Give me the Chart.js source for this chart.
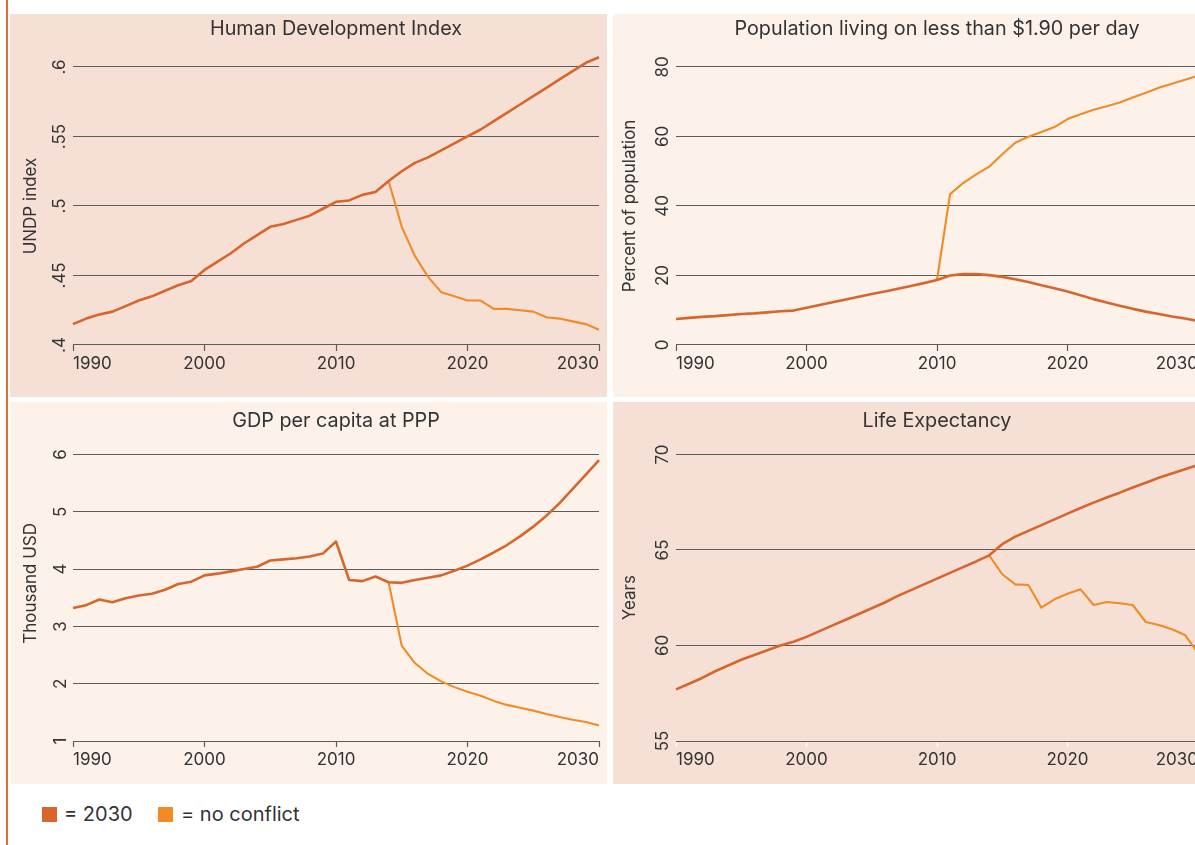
<!DOCTYPE html>
<html><head><meta charset="utf-8">
<script src="https://cdn.jsdelivr.net/npm/chart.js@4.4.1/dist/chart.umd.min.js"></script>
<style>
html,body{margin:0;padding:0;}
body{width:1195px;height:845px;overflow:hidden;position:relative;background:#fff;font-family:'Inter',sans-serif;}
.panel{position:absolute;overflow:visible;}
.panel canvas{position:absolute;left:0;top:0;}
#vline{position:absolute;left:6px;top:0;width:1.5px;height:845px;background:#e06e32;}
.sq{position:absolute;width:15px;height:15px;top:807px;}
.lt{position:absolute;top:801px;font-size:20px;line-height:26px;color:#333;white-space:nowrap;}
</style></head>
<body>
<div id="vline"></div>
<div class="panel" style="left:10px;top:14px;width:597px;height:383px;background:#f6e0d5;"><canvas id="c1" width="597" height="383"></canvas></div>
<div class="panel" style="left:613px;top:14px;width:582px;height:383px;background:#fdf2e9;"><canvas id="c2" width="593" height="383"></canvas></div>
<div class="panel" style="left:10px;top:402px;width:597px;height:382px;background:#fdf2e9;"><canvas id="c3" width="597" height="382"></canvas></div>
<div class="panel" style="left:613px;top:402px;width:582px;height:382px;background:#f6e0d5;"><canvas id="c4" width="593" height="382"></canvas></div>
<div class="sq" style="left:42px;background:#d8652c;"></div>
<div class="lt" style="left:64px;">= 2030</div>
<div class="sq" style="left:158px;background:#f28a26;"></div>
<div class="lt" style="left:181px;">= no conflict</div>
<script>
const years = [1990,1991,1992,1993,1994,1995,1996,1997,1998,1999,2000,2001,2002,2003,2004,2005,2006,2007,2008,2009,2010,2011,2012,2013,2014,2015,2016,2017,2018,2019,2020,2021,2022,2023,2024,2025,2026,2027,2028,2029,2030];
const xTicks = [1990,2000,2010,2020,2030];
const seriesNames = ['2030','no conflict'];

// Human Development Index (UNDP index)
const hdi2030 = [0.415,0.419,0.422,0.424,0.428,0.432,0.435,0.439,0.443,0.446,0.454,0.460,0.466,0.473,0.479,0.485,0.487,0.490,0.493,0.498,0.503,0.504,0.508,0.510,0.518,0.525,0.531,0.535,0.540,0.545,0.550,0.555,0.561,0.567,0.573,0.579,0.585,0.591,0.597,0.603,0.607];
const hdiNoConflict = [null,null,null,null,null,null,null,null,null,null,null,null,null,null,null,null,null,null,null,null,null,null,null,null,0.518,0.485,0.464,0.449,0.438,0.435,0.432,0.432,0.426,0.426,0.425,0.424,0.420,0.419,0.417,0.415,0.411];
const hdiTicks = [0.4,0.45,0.5,0.55,0.6];

// Population living on less than $1.90 per day (percent)
const pov2030 = [7.5,7.8,8.1,8.3,8.6,8.9,9.1,9.4,9.7,9.9,10.7,11.5,12.3,13.1,13.9,14.7,15.4,16.2,17.0,17.8,18.7,20.0,20.4,20.4,20.1,19.6,18.9,18.1,17.2,16.3,15.4,14.3,13.2,12.2,11.3,10.4,9.6,8.9,8.2,7.6,6.9];
const povNoConflict = [null,null,null,null,null,null,null,null,null,null,null,null,null,null,null,null,null,null,null,null,18.7,43.4,46.6,49.1,51.3,54.9,58.2,59.9,61.3,62.7,65.0,66.4,67.7,68.7,69.8,71.2,72.6,74.0,75.2,76.3,77.5];
const povTicks = [0,20,40,60,80];

// GDP per capita at PPP (thousand USD)
const gdp2030 = [3.32,3.37,3.47,3.42,3.49,3.54,3.57,3.64,3.74,3.78,3.89,3.92,3.96,4.00,4.04,4.15,4.17,4.19,4.22,4.27,4.48,3.81,3.79,3.87,3.77,3.76,3.81,3.85,3.89,3.97,4.06,4.17,4.29,4.42,4.57,4.74,4.93,5.15,5.40,5.65,5.90];
const gdpNoConflict = [null,null,null,null,null,null,null,null,null,null,null,null,null,null,null,null,null,null,null,null,null,null,null,null,3.77,2.66,2.36,2.17,2.04,1.94,1.86,1.79,1.70,1.63,1.58,1.53,1.47,1.42,1.37,1.33,1.27];
const gdpTicks = [1,2,3,4,5,6];

// Life Expectancy (years)
const life2030 = [57.7,58.0,58.3,58.65,58.95,59.25,59.5,59.75,60.0,60.2,60.45,60.75,61.05,61.35,61.65,61.95,62.25,62.6,62.9,63.2,63.5,63.8,64.1,64.4,64.72,65.3,65.7,66.0,66.3,66.6,66.9,67.2,67.48,67.75,68.0,68.27,68.52,68.78,69.0,69.23,69.45];
const lifeNoConflict = [null,null,null,null,null,null,null,null,null,null,null,null,null,null,null,null,null,null,null,null,null,null,null,null,64.72,63.73,63.2,63.17,61.98,62.42,62.71,62.94,62.12,62.28,62.21,62.12,61.23,61.07,60.85,60.55,59.6];
const lifeTicks = [55,60,65,70];

const DARK = '#d8652c', LIGHT = '#f28a26', TXT = '#333333', GRID = '#5c5c5c';
const FONT = 'Inter';

function makeChart(id, cfg) {
  new Chart(document.getElementById(id), {
    type: 'line',
    data: {
      labels: years,
      datasets: [
        { label: seriesNames[0], data: cfg.a, borderColor: DARK, borderWidth: 2.6, pointRadius: 0, tension: 0, clip: false, borderJoinStyle: 'round' },
        { label: seriesNames[1], data: cfg.b, borderColor: LIGHT, borderWidth: 2.1, pointRadius: 0, tension: 0, clip: false, borderJoinStyle: 'round' }
      ]
    },
    options: {
      responsive: false,
      animation: false,
      events: [],
      layout: { padding: { left: 0, right: 8, top: 0, bottom: 0 } },
      plugins: {
        legend: { display: false },
        tooltip: { enabled: false },
        title: {
          display: true, text: cfg.title, color: TXT, fullSize: false,
          font: { family: FONT, size: 19.8, weight: 'normal', lineHeight: 1.2 },
          padding: { top: cfg.tPad, bottom: cfg.tPadB }
        }
      },
      scales: {
        x: {
          type: 'linear', min: 1990, max: 2030,
          afterBuildTicks: s => { s.ticks = xTicks.map(v => ({ value: v })); },
          afterFit: s => { s.height = cfg.xH; },
          ticks: { align: 'inner', padding: 3, color: TXT, maxRotation: 0, font: { family: FONT, size: 17 }, callback: v => String(v) },
          grid: { drawOnChartArea: false, drawTicks: true, tickLength: 6, tickColor: cfg.tickColor, tickWidth: 1.2 },
          border: { display: true, color: GRID, width: 1 }
        },
        y: {
          min: cfg.min, max: cfg.max,
          afterBuildTicks: s => { s.ticks = cfg.ticks.map(v => ({ value: v })); },
          afterFit: s => { s.width = 63; },
          ticks: { minRotation: 90, maxRotation: 90, crossAlign: 'center', padding: cfg.yPad, color: TXT, font: { family: FONT, size: 17 }, callback: cfg.fmt || (v => String(v)) },
          grid: { drawTicks: false, color: GRID, lineWidth: 1 },
          border: { display: false },
          title: { display: true, text: cfg.yTitle, color: TXT, font: { family: FONT, size: 17 }, padding: { top: cfg.yTPad, bottom: 0 } }
        }
      }
    }
  });
}

makeChart('c1', { title: 'Human Development Index', yTitle: 'UNDP index', a: hdi2030, b: hdiNoConflict, min: 0.4, max: 0.6, ticks: hdiTicks,
  fmt: v => String(Math.round(v * 100) / 100).replace(/^0/, ''), tPad: 3.2, tPadB: 26.0, xH: 52, yPad: 0.3, yTPad: 10.5, tickColor: GRID });
makeChart('c2', { title: 'Population living on less than $1.90 per day', yTitle: 'Percent of population', a: pov2030, b: povNoConflict, min: 0, max: 80, ticks: povTicks,
  tPad: 3.2, tPadB: 26.0, xH: 52, yPad: 2.3, yTPad: 6.8, tickColor: GRID });
makeChart('c3', { title: 'GDP per capita at PPP', yTitle: '      Thousand USD', a: gdp2030, b: gdpNoConflict, min: 1, max: 6, ticks: gdpTicks,
  tPad: 6.9, tPadB: 21.8, xH: 43, yPad: 7, yTPad: 10.5, tickColor: GRID });
makeChart('c4', { title: 'Life Expectancy', yTitle: 'Years', a: life2030, b: lifeNoConflict, min: 55, max: 70, ticks: lifeTicks,
  tPad: 6.9, tPadB: 21.8, xH: 43, yPad: 2.3, yTPad: 6.8, tickColor: '#ffffff' });
</script>
</body></html>
